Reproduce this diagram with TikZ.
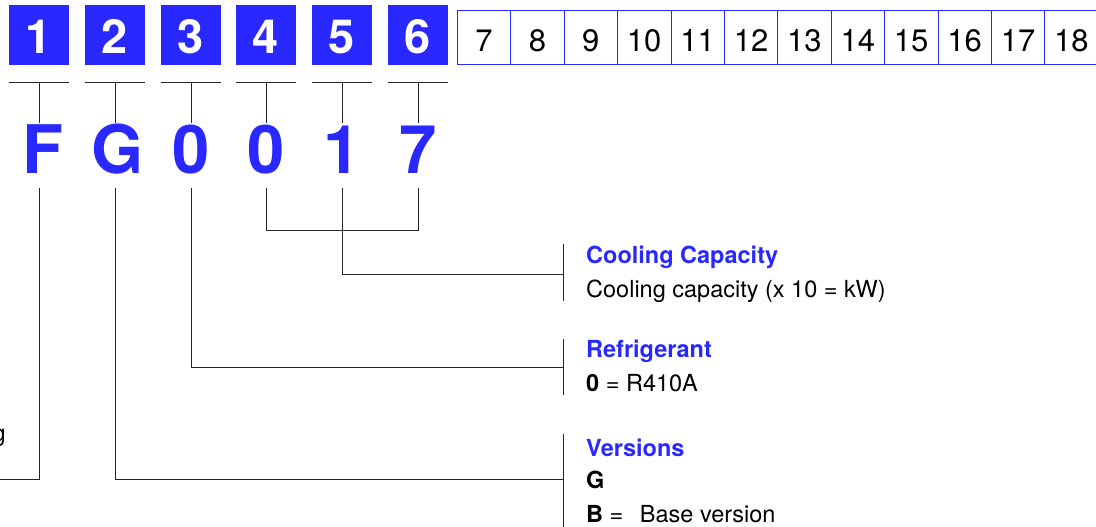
\documentclass[tikz,border=0pt]{standalone}
\usepackage{fontspec}
\setmainfont{TeX Gyre Heros}
\definecolor{codeblue}{RGB}{40,40,255}
\tikzset{
  posbox/.style={fill=codeblue,text=white,minimum width=60pt,minimum height=60pt,inner sep=0pt,
    font=\fontsize{47}{47}\selectfont\bfseries,text height=36.6pt,text depth=0pt},
  cellbox/.style={draw=codeblue,line width=0.8pt,minimum width=53.4pt,minimum height=53.6pt,inner sep=0pt,
    font=\fontsize{31}{31}\selectfont,text height=30pt,text depth=1.6pt},
  codechar/.style={text=codeblue,font=\fontsize{67}{67}\selectfont\bfseries,inner sep=1.5pt,
    text height=48pt,text depth=0pt,anchor=base},
  headtxt/.style={text=codeblue,font=\fontsize{23.5}{23.5}\selectfont\bfseries,inner sep=0pt,anchor=base west},
  bodytxt/.style={font=\fontsize{23.5}{23.5}\selectfont,inner sep=0pt,anchor=base west},
  link/.style={line width=0.9pt,black!85}
}
\begin{document}
\begin{tikzpicture}[x=1pt,y=-1pt]
  \useasboundingbox (0,0) rectangle (1096,527);
  \foreach \i/\x/\s/\c in {1/39/4/F,2/115/3/G,3/191/0/0,4/266/0/0,5/342/0/1,6/418/0/7}
  {
    \node[posbox] (p\i) at (\x,35) {\i};
    \node[codechar] (l\i) at (\x+\s,173) {\c};
    \coordinate (u\i) at (\x,82);
    \coordinate (b\i) at (\x,188);
    \draw[link] ([xshift=-30pt]u\i) -- ([xshift=30pt]u\i);
    \draw[link] (u\i) -- (u\i |- l\i.north);
  }
  \foreach \n in {7,...,18}
  {
    \node[cellbox] (c\n) at ({484+53.4*(\n-7)},37.5) {\n};
  }
  \node[headtxt] (capT) at (586,263) {Cooling Capacity};
  \node[bodytxt] (capL) at (586,297) {Cooling capacity (x 10 = kW)};
  \node[headtxt] (refT) at (586,357) {Refrigerant};
  \node[bodytxt] (refL) at (586,391) {{\bfseries 0} = R410A};
  \node[headtxt] (verT) at (586,456) {Versions};
  \node[bodytxt] (verG) at (586,488) {\bfseries G};
  \node[bodytxt] (verB) at (586,522) {{\bfseries B} = \hspace{10pt}Base version};
  \node[bodytxt,anchor=base east] (hidT) at (6,441) {g};
  \coordinate (capin) at (563,274);
  \coordinate (refin) at (563,367);
  \coordinate (verin) at (563,479);
  \coordinate (fout) at (-5,479);
  \draw[link] (563,244) -- (563,301);
  \draw[link] (563,339) -- (563,395);
  \draw[link] (563,434) -- (563,535);
  \draw[link] (b4) -- ++(0,42) -| (b6);
  \draw[link] (b5) |- (capin);
  \draw[link] (b3) |- (refin);
  \draw[link] (b2) |- (verin);
  \draw[link] (b1) |- (fout);
\end{tikzpicture}
\end{document}
